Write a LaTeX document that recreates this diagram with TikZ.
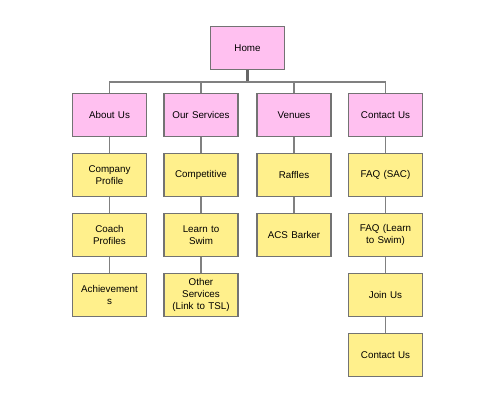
\documentclass[tikz,border=0pt]{standalone}
\usepackage{fontspec}
\setmainfont{Liberation Sans}
\begin{document}
\begin{tikzpicture}[x=1pt,y=-1pt,
  box/.style={draw=black!55,line width=1.4pt,minimum width=74pt,minimum height=43pt,align=center,font=\fontsize{9.8}{11.7}\selectfont,inner sep=1pt,text width=70pt},
  top/.style={box,fill=pinkbox},
  sub/.style={box,fill=yellowbox},
  conn/.style={draw=black!50,line width=1.3pt}]
\definecolor{pinkbox}{RGB}{255,192,240}
\definecolor{yellowbox}{RGB}{255,240,140}
\useasboundingbox (0,0) rectangle (495,400);
\node[top] (home) at (247.5,48) {Home};
\node[top] (about) at (109.5,115) {About Us};
\node[top] (serv) at (201,115) {Our Services};
\node[top] (ven) at (294,115) {Venues};
\node[top] (cont) at (385.5,115) {Contact Us};
\coordinate (bus) at (247.5,82);
% column 1
\node[sub] (a1) at (109.5,175) {Company\\Profile};
\node[sub] (a2) at (109.5,235) {Coach\\Profiles};
\node[sub] (a3) at (109.5,295) {Achievement\\s};
% column 2
\node[sub] (s1) at (201,175) {Competitive};
\node[sub] (s2) at (201,235) {Learn to\\Swim};
\node[sub] (s3) at (201,295) {Other\\Services\\(Link to TSL)};
% column 3
\node[sub] (v1) at (294,175) {Raffles};
\node[sub] (v2) at (294,235) {ACS Barker};
% column 4
\node[sub] (c1) at (385.5,175) {FAQ (SAC)};
\node[sub] (c2) at (385.5,235) {FAQ (Learn\\to Swim)};
\node[sub] (c3) at (385.5,295) {Join Us};
\node[sub] (c4) at (385.5,355) {Contact Us};
\begin{scope}[on background layer/.style={}]
\end{scope}
\draw[draw=black!60,line width=2.2pt] (home.south) -- (bus);
\draw[conn] (about.north) |- (bus) -| (cont.north);
\draw[conn] (serv.north) -- (serv.north |- bus);
\draw[conn] (ven.north) -- (ven.north |- bus);
\draw[conn] (about) -- (a1) (a1) -- (a2) (a2) -- (a3);
\draw[conn] (serv) -- (s1) (s1) -- (s2) (s2) -- (s3);
\draw[conn] (ven) -- (v1) (v1) -- (v2);
\draw[conn] (cont) -- (c1) (c1) -- (c2) (c2) -- (c3) (c3) -- (c4);
\end{tikzpicture}
\end{document}
